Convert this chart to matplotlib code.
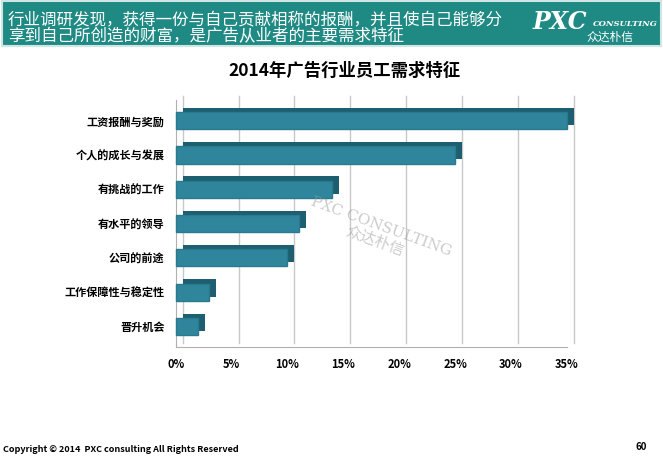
import matplotlib.pyplot as plt
import matplotlib.transforms as mtransforms
from matplotlib.patches import Rectangle

plt.rcParams["font.family"] = ["Noto Sans CJK SC", "DejaVu Sans"]

categories = ["工资报酬与奖励", "个人的成长与发展", "有挑战的工作", "有水平的领导",
              "公司的前途", "工作保障性与稳定性", "晋升机会"]
values = [35, 25, 14, 11, 10, 3, 2]
ticks = [0, 5, 10, 15, 20, 25, 30, 35]

fig = plt.figure(figsize=(6.63, 4.59), dpi=100)

# header banner
fig.patches.append(Rectangle((0.003, 0.9), 0.994, 0.097, transform=fig.transFigure,
                             facecolor="#1f8a84", edgecolor="#cfe6e4", lw=1.5))
fig.text(0.012, 0.956, "行业调研发现，获得一份与自己贡献相称的报酬，并且使自己能够分",
         color="white", fontsize=11.9, va="center")
fig.text(0.012, 0.92, "享到自己所创造的财富，是广告从业者的主要需求特征",
         color="white", fontsize=11.9, va="center")
fig.text(0.803, 0.953, "PXC", color="white", fontsize=17, fontweight="bold",
         style="italic", family="DejaVu Serif", va="center")
fig.text(0.895, 0.947, "CONSULTING", color="white", fontsize=6, fontweight="bold",
         style="italic", family="DejaVu Serif", va="center")
fig.text(0.92, 0.918, "众达朴信", color="white", fontsize=8.5, va="center", ha="center")

fig.text(0.52, 0.845, "2014年广告行业员工需求特征", fontsize=12.5, fontweight="bold",
         ha="center", va="center")

ax = fig.add_axes([0.265, 0.244, 0.59, 0.538])
y = list(range(len(categories)))
off = mtransforms.offset_copy(ax.transData, fig=fig, x=5 / 72, y=3 / 72, units="inches")

# gridlines on the back wall
for t in ticks:
    ax.plot([t, t], [-0.6, len(categories) - 0.4], color="#c8c8c8", lw=1,
            transform=off, zorder=0, clip_on=False)
# depth bars then front bars
ax.barh(y, values, height=0.5, color="#1d5f70", transform=off, zorder=2, clip_on=False)
ax.barh(y, values, height=0.5, color="#2f869c", edgecolor="#2a7a8e", zorder=3, clip_on=False)

ax.set_xlim(0, 35)
ax.set_ylim(len(categories) - 0.4, -0.6)
ax.set_xticks(ticks)
ax.set_xticklabels([f"{t}%" for t in ticks], fontsize=8, fontweight="bold")
ax.set_yticks(y)
ax.set_yticklabels(categories, fontsize=8, fontweight="bold")
ax.tick_params(length=0, pad=8)
for s in ["top", "right"]:
    ax.spines[s].set_visible(False)
ax.spines["left"].set_color("#b0b0b0")
ax.spines["bottom"].set_color("#b0b0b0")

# watermark
fig.text(0.57, 0.49, "PXC CONSULTING\n众达朴信", rotation=-20, color="#999999",
         alpha=0.5, fontsize=11, ha="center", va="center",
         family=["DejaVu Serif", "Noto Sans CJK SC"])

fig.text(0.005, 0.015, "Copyright © 2014  PXC consulting All Rights Reserved", fontsize=6.5,
         fontweight="bold")
fig.text(0.975, 0.02, "60", fontsize=7, fontweight="bold", ha="right")

fig.savefig("out.png", dpi=100)
